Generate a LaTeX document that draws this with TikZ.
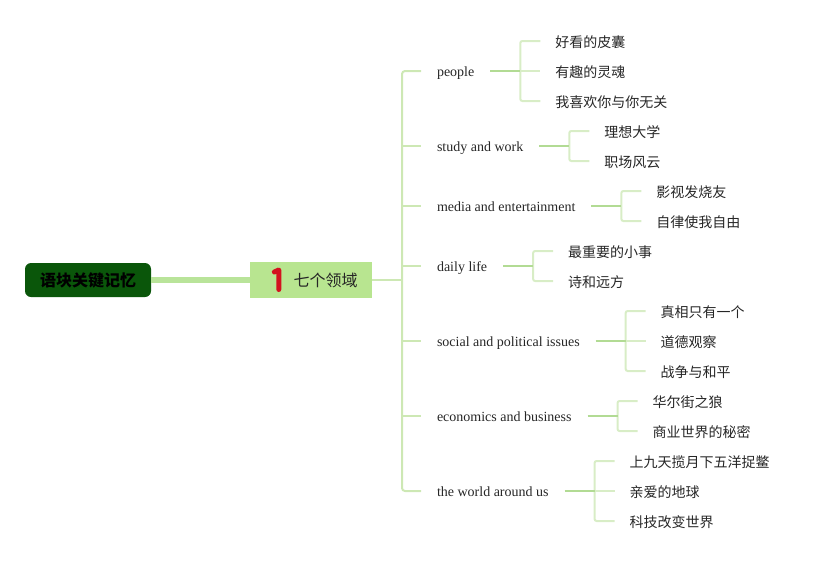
\documentclass[tikz,border=0pt]{standalone}
\usepackage{fontspec}
\setmainfont{Liberation Serif}
\newfontfamily\cjk{Noto Sans CJK SC}
\usetikzlibrary{calc}
\definecolor{rootfill}{HTML}{0A560A}
\definecolor{mainfill}{HTML}{B8E590}
\definecolor{thickc}{HTML}{B9E49A}
\definecolor{pale}{HTML}{D8EDC6}
\definecolor{midc}{HTML}{B2DB94}
\definecolor{trunkc}{HTML}{CDE8B4}
\definecolor{onered}{HTML}{D3121F}
\begin{document}
\begin{tikzpicture}[x=1pt,y=-1pt,
  rootbox/.style={draw=none, fill=rootfill, rounded corners=6pt, minimum width=126pt, minimum height=34pt, inner sep=0pt,
    font=\cjk\bfseries\fontsize{16}{18}\selectfont, text height=12.2pt, text depth=0pt, text=black},
  mainbox/.style={draw=none, fill=mainfill, minimum width=122pt, minimum height=36pt, inner sep=0pt,
    font=\cjk\fontsize{16}{18}\selectfont, text height=12.2pt, text depth=0pt, text=black!85},
  lbl/.style={anchor=west, inner xsep=0pt, inner ysep=0pt, outer xsep=16pt,
    font=\fontsize{14}{16}\selectfont, text height=10pt, text depth=0pt, text=black!85},
  kid/.style={anchor=west, inner xsep=0pt, inner ysep=0pt, outer xsep=15pt,
    font=\cjk\fontsize{14}{16}\selectfont, text height=12pt, text depth=0pt, text=black!85},
  palel/.style={draw=pale, line width=2pt},
  trunkl/.style={draw=trunkc, line width=2pt},
  midl/.style={draw=midc, line width=2pt},
]
\useasboundingbox (0,0) rectangle (829,560);

% root and main
\node[rootbox] (root) at (88,280) {语块关键记忆};
\node[mainbox] (main) at (311,280) {\hspace*{29pt}七个领域};
\draw[draw=thickc, line width=6pt] (root.east) -- (main.west);
\draw[draw=onered, line width=5pt, line cap=round, line join=round]
  ($(main.west)+(24.5,-8)$) -- ($(main.west)+(29,-10)$) -- ($(main.west)+(29,9.5)$);

% branch labels (west anchor = end of trunk stub, text starts 16pt further)
\node[lbl] (l1) at (421,71) {people};
\node[lbl] (l2) at (421,146) {study and work};
\node[lbl] (l3) at (421,206) {media and entertainment};
\node[lbl] (l4) at (421,266) {daily life};
\node[lbl] (l5) at (421,341) {social and political issues};
\node[lbl] (l6) at (421,416) {economics and business};
\node[lbl] (l7) at (421,491) {the world around us};

% trunk
\coordinate (t) at (402,280);
\draw[trunkl] (main.east) -- (t);
\draw[trunkl, rounded corners=3pt] (l1.west) -| (t) |- (l7.west);
\foreach \i in {2,...,6} { \draw[trunkl] (t |- l\i.west) -- (l\i.west); }

% junctions
\foreach \i in {1,...,7} { \coordinate (b\i) at ($(l\i.east)+(30,0)$); }

% children
\node[kid] (c1a) at ($(b1)+(20,-30)$) {好看的皮囊};
\node[kid] (c1b) at ($(b1)+(20,0)$) {有趣的灵魂};
\node[kid] (c1c) at ($(b1)+(20,30)$) {我喜欢你与你无关};

\node[kid] (c2a) at ($(b2)+(20,-15)$) {理想大学};
\node[kid] (c2b) at ($(b2)+(20,15)$) {职场风云};

\node[kid] (c3a) at ($(b3)+(20,-15)$) {影视发烧友};
\node[kid] (c3b) at ($(b3)+(20,15)$) {自律使我自由};

\node[kid] (c4a) at ($(b4)+(20,-15)$) {最重要的小事};
\node[kid] (c4b) at ($(b4)+(20,15)$) {诗和远方};

\node[kid] (c5a) at ($(b5)+(20,-30)$) {真相只有一个};
\node[kid] (c5b) at ($(b5)+(20,0)$) {道德观察};
\node[kid] (c5c) at ($(b5)+(20,30)$) {战争与和平};

\node[kid] (c6a) at ($(b6)+(20,-15)$) {华尔街之狼};
\node[kid] (c6b) at ($(b6)+(20,15)$) {商业世界的秘密};

\node[kid] (c7a) at ($(b7)+(20,-30)$) {上九天揽月下五洋捉鳖};
\node[kid] (c7b) at ($(b7)+(20,0)$) {亲爱的地球};
\node[kid] (c7c) at ($(b7)+(20,30)$) {科技改变世界};

% brackets
\foreach \i in {1,5,7} {
  \draw[palel, rounded corners=2pt] (c\i a.west) -| (b\i) |- (c\i c.west);
  \draw[palel] (b\i) -- (c\i b.west);
}
\foreach \i in {2,3,4,6} {
  \draw[palel, rounded corners=2pt] (c\i a.west) -| (b\i) |- (c\i b.west);
}
% label to bracket
\foreach \i in {1,...,7} { \draw[midl] (l\i.east) -- (b\i); }
\end{tikzpicture}
\end{document}
